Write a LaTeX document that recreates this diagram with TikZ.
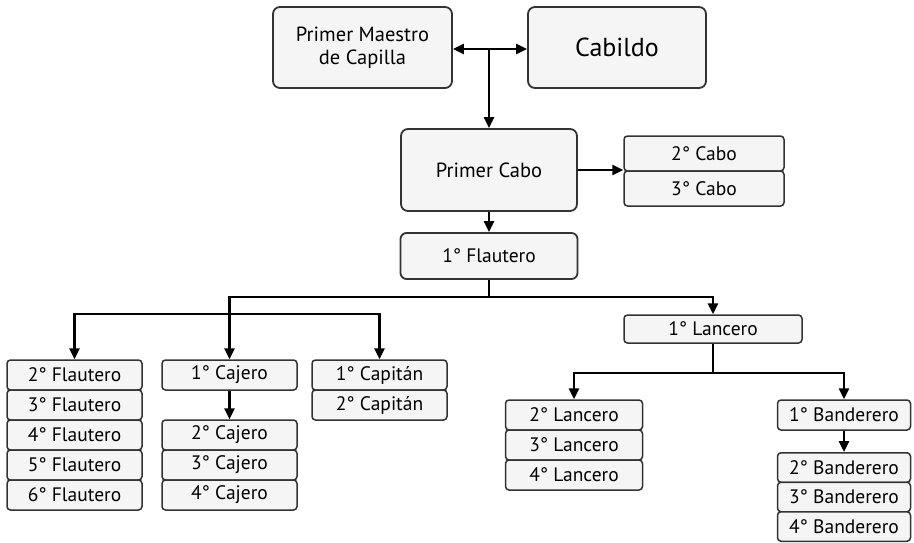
\documentclass[tikz,border=0pt]{standalone}
\usepackage{fontspec}
\setmainfont{PT Sans}
\usetikzlibrary{arrows.meta}
\begin{document}
\begin{tikzpicture}[x=1pt,y=-1pt,
    box/.style={draw=black!80,fill=gray!8,line width=1.8pt,rounded corners=7pt,
        inner sep=0pt,align=center,font=\fontsize{20.5}{23}\selectfont},
    item/.style={draw=black!80,fill=gray!8,line width=1.5pt,rounded corners=3.5pt,
        inner sep=0pt,minimum height=30pt,font=\fontsize{19.5}{22}\selectfont},
    link/.style={line width=2.6pt,-{Triangle[length=11pt,width=10pt]}}]
\useasboundingbox (0,0) rectangle (914,543);

% Top level
\node[box,minimum width=179pt,minimum height=81pt] (maestro) at (362.5,47.5) {Primer Maestro\\de Capilla};
\node[box,minimum width=178pt,minimum height=81pt,font=\fontsize{26}{30}\selectfont] (cabildo) at (617,47.5) {Cabildo};
\node[box,minimum width=176pt,minimum height=82pt] (cabo1) at (489,170) {Primer Cabo};
\node[item,minimum width=160pt,minimum height=35pt] (cabo2) at (704,153.5) {2° Cabo};
\node[item,minimum width=160pt,minimum height=35pt] (cabo3) at (704,188.5) {3° Cabo};
\node[box,minimum width=177pt,minimum height=46pt,rounded corners=6pt,
    font=\fontsize{19.5}{22}\selectfont] (flautero1) at (489,256) {1° Flautero};

% Stacks
\foreach \n/\y in {2/375,3/405,4/435,5/465,6/495}
    \node[item,minimum width=135pt] (flautero\n) at (74.5,\y) {\n° Flautero};
\node[item,minimum width=135pt] (cajero1) at (229.5,375) {1° Cajero};
\foreach \n/\y in {2/435,3/465,4/495}
    \node[item,minimum width=135pt] (cajero\n) at (229.5,\y) {\n° Cajero};
\foreach \n/\y in {1/375,2/405}
    \node[item,minimum width=135pt] (capitan\n) at (379.5,\y) {\n° Capitán};
\node[item,minimum width=178pt,minimum height=28pt] (lancero1) at (713,329) {1° Lancero};
\foreach \n/\y in {2/415,3/445,4/475}
    \node[item,minimum width=137pt] (lancero\n) at (574,\y) {\n° Lancero};
\node[item,minimum width=133pt] (banderero1) at (844,415) {1° Banderero};
\foreach \n/\y in {2/467.5,3/497,4/526.5}
    \node[item,minimum width=133pt,minimum height=29.5pt] (banderero\n) at (844,\y) {\n° Banderero};

% Connectors
\coordinate (top) at (489,49);
\draw[line width=2.6pt,{Triangle[length=11pt,width=10pt]}-{Triangle[length=11pt,width=10pt]}] (maestro.east |- top) -- (cabildo.west |- top);
\draw[link] (top) -- (cabo1.north);
\draw[link] (cabo1.east) -- (cabo1.east -| cabo2.west);
\draw[link] (cabo1.south) -- (flautero1.north);

\coordinate (bus1) at (489,297);
\coordinate (bus2) at (229.5,314);
\draw[line width=2.6pt] (flautero1.south) -- (bus1);
\draw[link] (bus1) -| (cajero1.north);
\draw[link] (bus1) -| (lancero1.north);
\draw[link] (bus2) -| (flautero2.north);
\draw[link] (bus2) -| (capitan1.north);
\draw[link] (cajero1.south) -- (cajero2.north);

\coordinate (bus3) at (713,373);
\draw[line width=2.6pt] (lancero1.south) -- (bus3);
\draw[link] (bus3) -| (lancero2.north);
\draw[link] (bus3) -| (banderero1.north);
\draw[link] (banderero1.south) -- (banderero2.north);
\end{tikzpicture}
\end{document}
